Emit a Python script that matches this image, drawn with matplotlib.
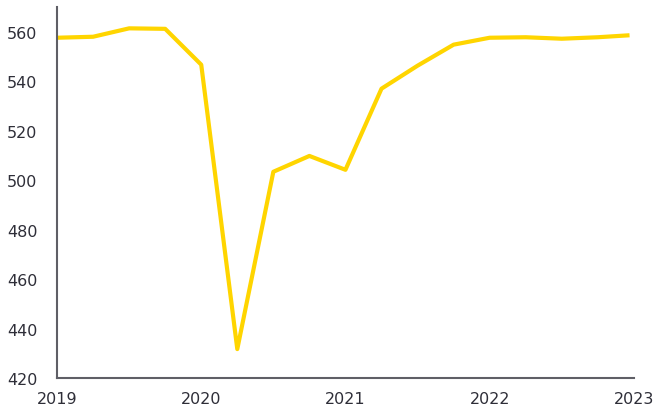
import matplotlib
matplotlib.use('Agg')
from matplotlib import pyplot as plt

# quarterly values, 2019 Q1 .. 2023 Q1
years = [2019.0, 2019.25, 2019.5, 2019.75,
         2020.0, 2020.25, 2020.5, 2020.75,
         2021.0, 2021.25, 2021.5, 2021.75,
         2022.0, 2022.25, 2022.5, 2022.75,
         2022.97]
values = [557.6, 558.0, 561.4, 561.2,
          546.7, 431.7, 503.4, 509.8,
          504.2, 537.0, 546.3, 554.8,
          557.6, 557.8, 557.2, 557.8,
          558.6]
xticks = [2019, 2020, 2021, 2022, 2023]
yticks = [420, 440, 460, 480, 500, 520, 540, 560]

text_color = '#2e2e38'
spine_color = '#5f5f66'

fig = plt.figure(figsize=(6.57, 4.14), dpi=100)
ax = fig.add_axes([0.0868, 0.0845, 0.878, 0.896])

ax.plot(years, values, color='#FFD500', linewidth=3.0, solid_capstyle='butt', clip_on=False)

ax.set_xlim(2019, 2023)
ax.set_ylim(420, 570)
ax.set_xticks(xticks)
ax.set_xticklabels([str(x) for x in xticks])
ax.set_yticks(yticks)

for s in ['top', 'right']:
    ax.spines[s].set_visible(False)
for s in ['left', 'bottom']:
    ax.spines[s].set_color(spine_color)
    ax.spines[s].set_linewidth(1.5)

ax.tick_params(axis='both', length=0, labelsize=11.5, labelcolor=text_color)
ax.tick_params(axis='x', pad=9)
ax.tick_params(axis='y', pad=14)

fig.savefig('out.png', dpi=100)
plt.close(fig)
